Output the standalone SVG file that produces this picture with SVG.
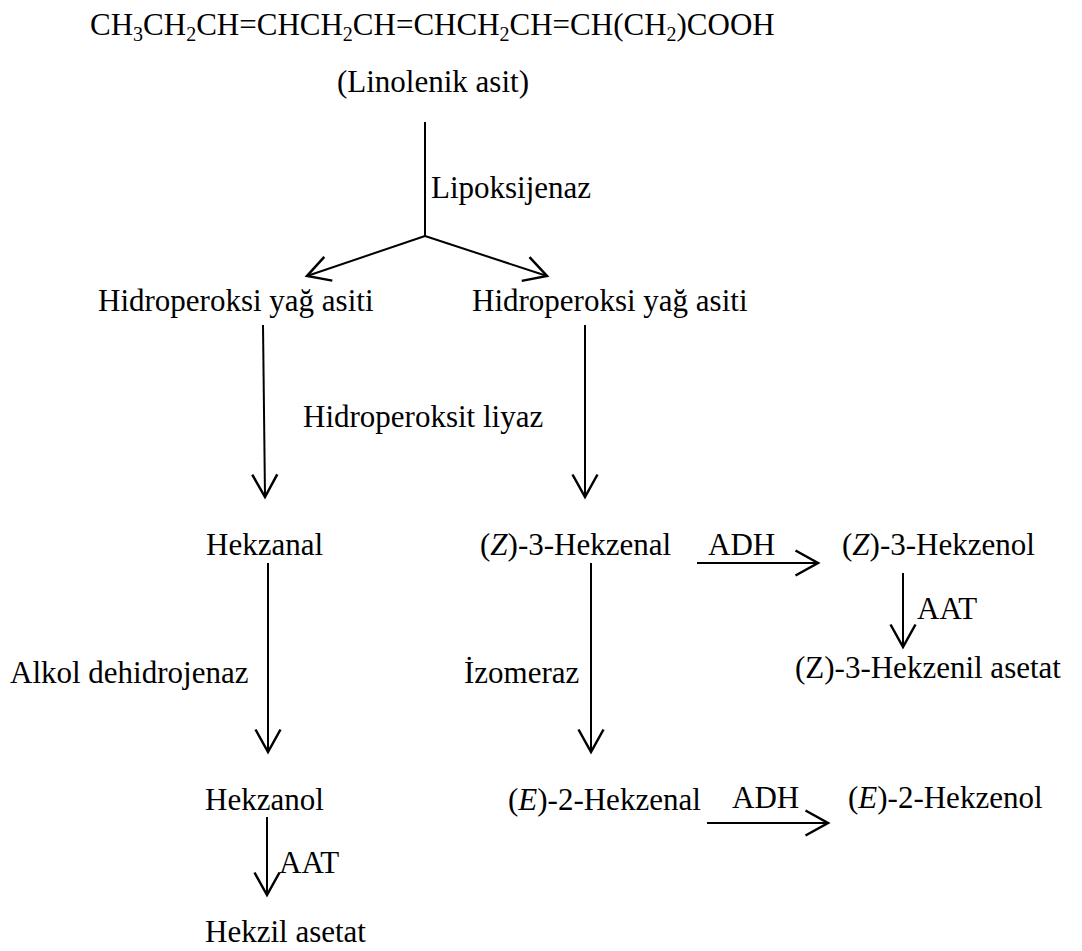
<svg xmlns="http://www.w3.org/2000/svg" width="1082" height="951" viewBox="0 0 1082 951">
<defs>
<style>
text{font-family:"Liberation Serif","Times New Roman",serif;font-size:31px;fill:#000}
.sub{font-size:20px}
.ln{stroke:#000;stroke-width:2;fill:none}
</style>
<marker id="ah" markerUnits="userSpaceOnUse" markerWidth="30" markerHeight="30" viewBox="-20 -12 22 24" refX="0" refY="0" orient="auto">
<path d="M-18,-10 L0,0 L-18,10" fill="none" stroke="#000" stroke-width="2"/>
</marker>
</defs>
<rect width="1082" height="951" fill="#fff"/>
<g id="connectors">
<line class="ln" x1="425" y1="122" x2="425" y2="236"/>
<line class="ln" x1="425" y1="236" x2="307" y2="276" marker-end="url(#ah)"/>
<line class="ln" x1="425" y1="236" x2="547" y2="276" marker-end="url(#ah)"/>
<line class="ln" x1="263" y1="325" x2="265" y2="497" marker-end="url(#ah)"/>
<line class="ln" x1="585" y1="325" x2="585" y2="497" marker-end="url(#ah)"/>
<line class="ln" x1="268" y1="563" x2="268" y2="752" marker-end="url(#ah)"/>
<line class="ln" x1="591" y1="563" x2="591" y2="752" marker-end="url(#ah)"/>
<line class="ln" x1="697" y1="563" x2="818" y2="563" marker-end="url(#ah)"/>
<line class="ln" x1="903" y1="573" x2="903" y2="647" marker-end="url(#ah)"/>
<line class="ln" x1="267" y1="817" x2="267" y2="895" marker-end="url(#ah)"/>
<line class="ln" x1="707" y1="823" x2="828" y2="823" marker-end="url(#ah)"/>
</g>
<g id="linolenic">
<text x="90" y="35">CH<tspan class="sub" dy="6">3</tspan><tspan dy="-6">CH</tspan><tspan class="sub" dy="6">2</tspan><tspan dy="-6">CH=CHCH</tspan><tspan class="sub" dy="6">2</tspan><tspan dy="-6">CH=CHCH</tspan><tspan class="sub" dy="6">2</tspan><tspan dy="-6">CH=CH(CH</tspan><tspan class="sub" dy="6">2</tspan><tspan dy="-6">)COOH</tspan></text>
<text x="337" y="92">(Linolenik asit)</text>
</g>
<g id="lbl-lipoksijenaz"><text x="431" y="198">Lipoksijenaz</text></g>
<g id="hpo1"><text x="98" y="311">Hidroperoksi yağ asiti</text></g>
<g id="hpo2"><text x="472" y="311">Hidroperoksi yağ asiti</text></g>
<g id="lbl-liyaz"><text x="303" y="427">Hidroperoksit liyaz</text></g>
<g id="hekzanal"><text x="206" y="555">Hekzanal</text></g>
<g id="z3hekzenal"><text x="480" y="555">(<tspan font-style="italic">Z</tspan>)-3-Hekzenal</text></g>
<g id="lbl-adh1"><text x="708" y="555">ADH</text></g>
<g id="z3hekzenol"><text x="842" y="555">(<tspan font-style="italic">Z</tspan>)-3-Hekzenol</text></g>
<g id="lbl-aat1"><text x="917" y="619">AAT</text></g>
<g id="z3hekzenilasetat"><text x="795" y="678">(Z)-3-Hekzenil asetat</text></g>
<g id="lbl-adh-enz"><text x="10" y="683">Alkol dehidrojenaz</text></g>
<g id="lbl-izomeraz"><text x="464" y="683">İzomeraz</text></g>
<g id="hekzanol"><text x="205" y="810">Hekzanol</text></g>
<g id="e2hekzenal"><text x="508" y="810">(<tspan font-style="italic">E</tspan>)-2-Hekzenal</text></g>
<g id="lbl-adh2"><text x="732" y="808">ADH</text></g>
<g id="e2hekzenol"><text x="848" y="808">(<tspan font-style="italic">E</tspan>)-2-Hekzenol</text></g>
<g id="lbl-aat2"><text x="279" y="873">AAT</text></g>
<g id="hekzilasetat"><text x="205" y="942">Hekzil asetat</text></g>
</svg>
